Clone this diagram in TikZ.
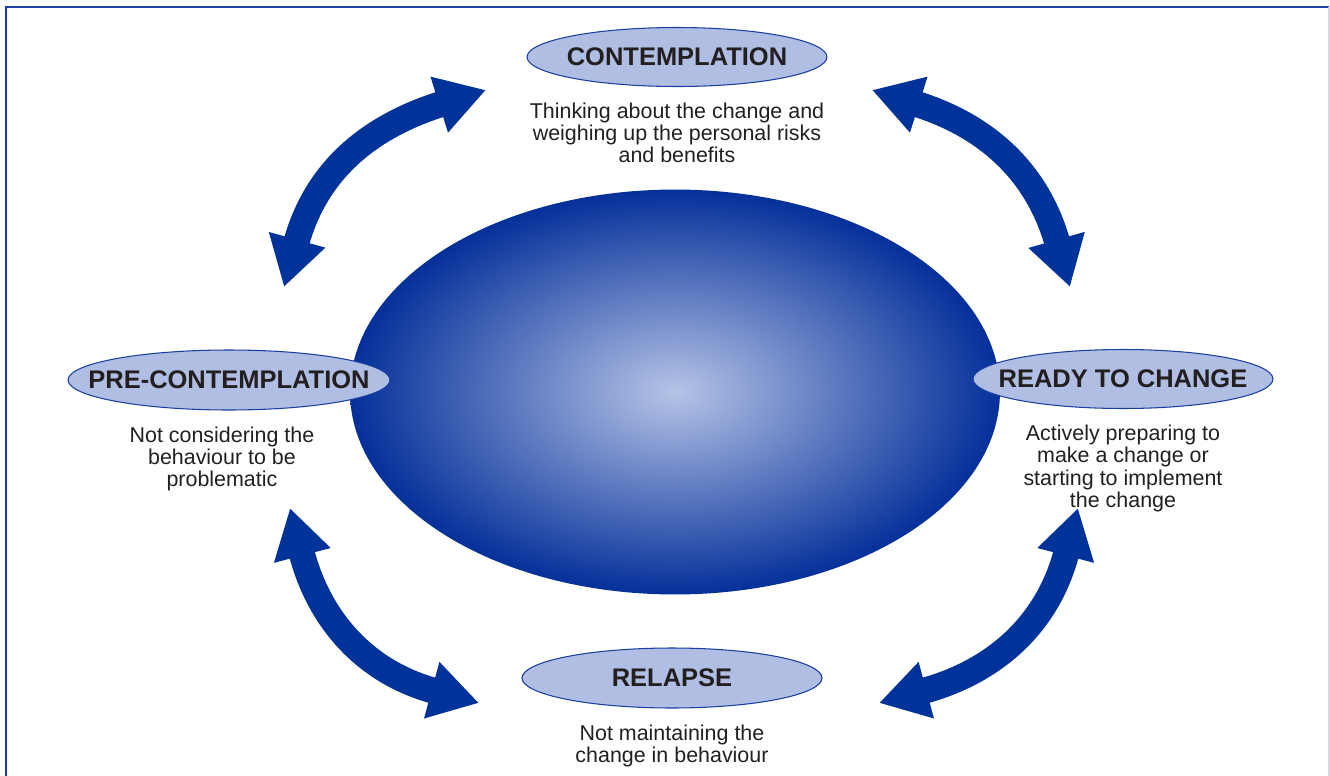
\documentclass[tikz,border=0pt]{standalone}
\usepackage{fontspec}
\setmainfont{Liberation Sans}
\usepackage{tikz}
\usepackage{xcolor}
\usetikzlibrary{shapes.geometric, arrows.meta, positioning, calc}

\definecolor{cycleblue}{HTML}{00339A}
\definecolor{stagefill}{HTML}{B0BEE3}
\definecolor{stageline}{HTML}{1A3FA0}
\definecolor{textgrey}{HTML}{231F20}
\definecolor{coreinner}{HTML}{B5C3E6}
\definecolor{coreouter}{HTML}{05309A}
\definecolor{frameline}{HTML}{1F3FA8}
\definecolor{frameright}{HTML}{D8D8E6}

\tikzset{
  stage/.style={ellipse, draw=stageline, line width=0.6pt, fill=stagefill,
    inner sep=0pt, minimum width=6cm, minimum height=1.18cm},
  stagename/.style={font=\bfseries\fontsize{14.5}{16}\selectfont, text=textgrey},
  stagedesc/.style={font=\fontsize{12.2}{12.6}\selectfont, text=textgrey,
    align=center, inner sep=0pt, below=9pt of #1},
  cyclearrow/.style={cycleblue, line width=0.52cm,
    {Triangle[width=1.1cm,length=0.98cm]}-{Triangle[width=1.1cm,length=0.98cm]}}
}

\begin{document}
\begin{tikzpicture}[x=0.02cm,y=0.02cm]
\useasboundingbox (0,0) rectangle (1330,-775);

% Frame
\draw[frameline, line width=0.8pt] (6,-790) -- (6,-7) -- (1329,-7);
\draw[frameright, line width=0.8pt] (1329,-7) -- (1329,-790);

% Central ellipse
\node[ellipse, minimum width=13cm, minimum height=8.1cm, inner sep=0pt,
  inner color=coreinner, outer color=coreouter] (core) at (675,-392) {};

% Arrows between the stages
\coordinate (tl1) at (284,-287);
\coordinate (tl2) at (486,-90);
\coordinate (tr1) at (872,-90);
\coordinate (tr2) at (1070,-287);
\coordinate (bl1) at (290,-508);
\coordinate (bl2) at (479,-703);
\coordinate (br1) at (1078,-508);
\coordinate (br2) at (879,-703);
\draw[cyclearrow] (tl1) to[out=74.5, in=197.4, looseness=1.1] (tl2);
\draw[cyclearrow] (tr1) to[out=-17.4, in=105.9, looseness=1.1] (tr2);
\draw[cyclearrow] (bl1) to[out=-75.4, in=164.8, looseness=1.1] (bl2);
\draw[cyclearrow] (br1) to[out=255.4, in=15.2, looseness=1.1] (br2);

% Stages
\node[stage] (contem) at (677,-57) {};
\node[stagename] (contemname) at (contem) {CONTEMPLATION};
\node[stagedesc=contem] (contemdesc) {Thinking about the change and\\weighing up the personal risks\\and benefits};

\node[stage, minimum width=6.44cm, minimum height=1.2cm] (pre) at (229,-380) {};
\node[stagename] (prename) at (pre) {PRE-CONTEMPLATION};
\node[stagedesc=pre, xshift=-4pt] (predesc) {Not considering the\\behaviour to be\\problematic};

\node[stage] (ready) at (1123,-379) {};
\node[stagename] (readyname) at (ready) {READY TO CHANGE};
\node[stagedesc=ready] (readydesc) {Actively preparing to\\make a change or\\starting to implement\\the change};

\node[stage, minimum height=1.2cm] (relapse) at (672,-678) {};
\node[stagename] (relapsename) at (relapse) {RELAPSE};
\node[stagedesc=relapse] (relapsedesc) {Not maintaining the\\change in behaviour};
\end{tikzpicture}
\end{document}
